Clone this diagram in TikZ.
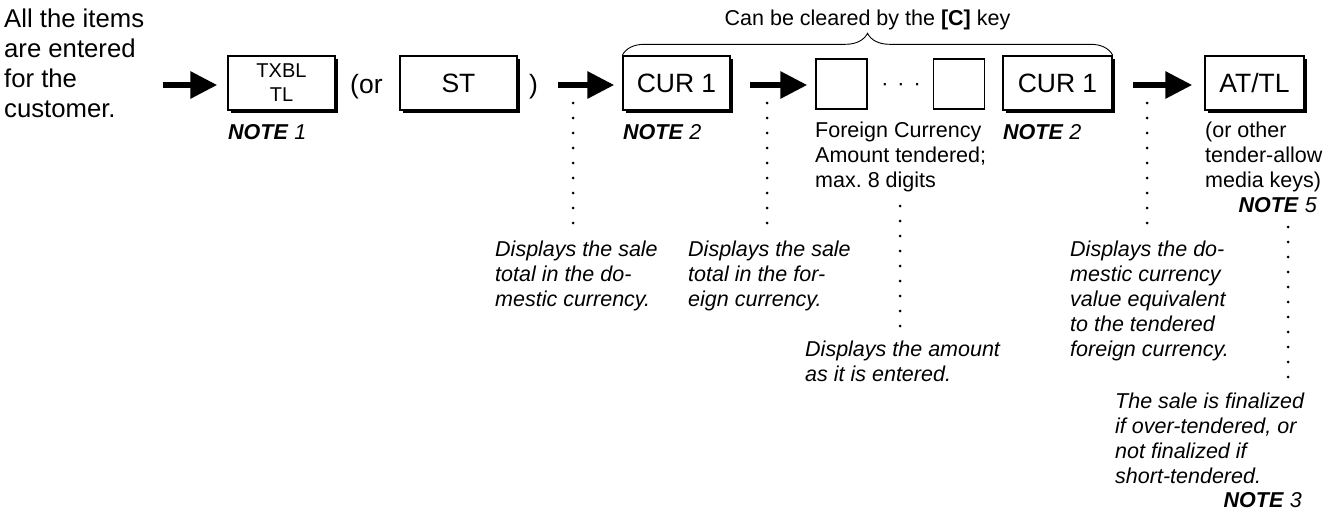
\documentclass[tikz,border=0pt]{standalone}
\usepackage{fontspec}
\setmainfont{Liberation Sans}
\usetikzlibrary{arrows.meta,positioning,shadows,decorations.pathreplacing}

\newcommand{\notemark}[1]{\textbf{\textit{NOTE}} \textit{#1}}

\tikzset{
  keybox/.style={draw,line width=1.4pt,fill=white,minimum height=54pt,
    inner sep=0pt,align=center,font=\fontsize{26.5}{30}\selectfont,
    drop shadow={shadow xshift=3pt,shadow yshift=-3pt,fill=black,opacity=1}},
  blankbox/.style={draw,line width=1.4pt,minimum width=51pt,minimum height=50pt,inner sep=0pt},
  bigarrow/.style={line width=6pt,-{Triangle[length=27pt,width=26pt]}},
  leader/.style={line width=3pt,line cap=round,dash pattern=on 0pt off 15pt,shorten >=15pt},
  txt/.style={inner sep=0pt,anchor=base west,align=left,font=\fontsize{21.5}{25}\selectfont},
  desc/.style={txt,font=\fontsize{21.5}{25}\selectfont\itshape},
  brace/.style={decorate,decoration={brace,amplitude=22pt},line width=0.9pt},
}

\begin{document}
\begin{tikzpicture}[x=1pt,y=-1pt]
  \useasboundingbox (0,0) rectangle (1336,514);

  % what happens before (base = last line)
  \node[txt,font=\fontsize{25.7}{30}\selectfont] (items) at (4,117)
        {All the items\\are entered\\for the\\customer.};

  % key sequence
  \node[keybox,minimum width=107pt,font=\fontsize{20}{24}\selectfont] (txbl) at (281.5,83) {TXBL\\TL};
  \node[txt,font=\fontsize{26.5}{30}\selectfont] (orl) at (350,93) {(or};
  \node[keybox,minimum width=117pt] (st) at (458.5,83) {ST};
  \node[txt,font=\fontsize{26.5}{30}\selectfont] (rp) at (529,93) {)};
  \node[keybox,minimum width=107pt] (cur1a) at (676.5,83) {CUR 1};
  \node[blankbox] (blanka) at (841.5,84) {};
  \node[txt,anchor=base] (gap) at (901,90) {·\hspace{9pt}·\hspace{9pt}·};
  \node[blankbox] (blankb) at (959,84) {};
  \node[keybox,minimum width=109pt] (cur1b) at (1057.5,83) {CUR 1};
  \node[keybox,minimum width=99pt] (attl) at (1254.5,83) {AT/TL};

  % arrows
  \coordinate (start) at (163,85);
  \coordinate (t1) at (558,85);
  \coordinate (t2) at (750,85);
  \coordinate (t3) at (1133,85);
  \draw[bigarrow,shorten >=10pt] (start) -- (start -| txbl.west);
  \draw[bigarrow,shorten >=8pt] (t1) -- (t1 -| cur1a.west);
  \draw[bigarrow,shorten >=8pt] (t2) -- (t2 -| blanka.west);
  \draw[bigarrow,shorten >=12pt] (t3) -- (t3 -| attl.west);

  % brace over the part that [C] clears
  \draw[brace] (cur1a.north west) -- (cur1b.north east)
        node[midway,above=25pt,inner sep=0pt,font=\fontsize{21.5}{25}\selectfont]
        {Can be cleared by the \textbf{[C]} key};

  % notes under the keys
  \node[txt] (note1) at (228,139) {\notemark{1}};
  \node[txt] (note2a) at (623,139) {\notemark{2}};
  \node[txt] (fc) at (815,187) {Foreign Currency\\Amount tendered;\\max.\ 8 digits};
  \node[txt] (note2b) at (1003,139) {\notemark{2}};
  \node[txt] (other) at (1205,187) {(or other\\tender-allow\\media keys)};
  \node[txt,anchor=base east] (note5) at (1317,212) {\notemark{5}};

  % what the display shows
  \node[desc] (desc1) at (495,306) {Displays the sale\\total in the do-\\mestic currency.};
  \node[desc] (desc2) at (688,306) {Displays the sale\\total in the for-\\eign currency.};
  \node[desc] (desc3) at (805,381) {Displays the amount\\as it is entered.};
  \node[desc] (desc4) at (1070,356) {Displays the do-\\mestic currency\\value equivalent\\to the tendered\\foreign currency.};
  \node[desc] (desc5) at (1115,483) {The sale is finalized\\if over-tendered, or\\not finalized if\\short-tendered.};
  \node[txt,anchor=base east] (note3) at (1302,507) {\notemark{3}};

  % dotted leaders
  \coordinate (l1) at (573,103);
  \coordinate (l2) at (767,103);
  \coordinate (l3) at (900,206);
  \coordinate (l4) at (1147,103);
  \coordinate (l5) at (1288,227);
  \draw[leader] (l1) -- (l1 |- desc1.north);
  \draw[leader] (l2) -- (l2 |- desc2.north);
  \draw[leader,shorten >=12pt] (l3) -- (l3 |- desc3.north);
  \draw[leader] (l4) -- (l4 |- desc4.north);
  \draw[leader,shorten >=14pt] (l5) -- (l5 |- desc5.north);
\end{tikzpicture}
\end{document}
